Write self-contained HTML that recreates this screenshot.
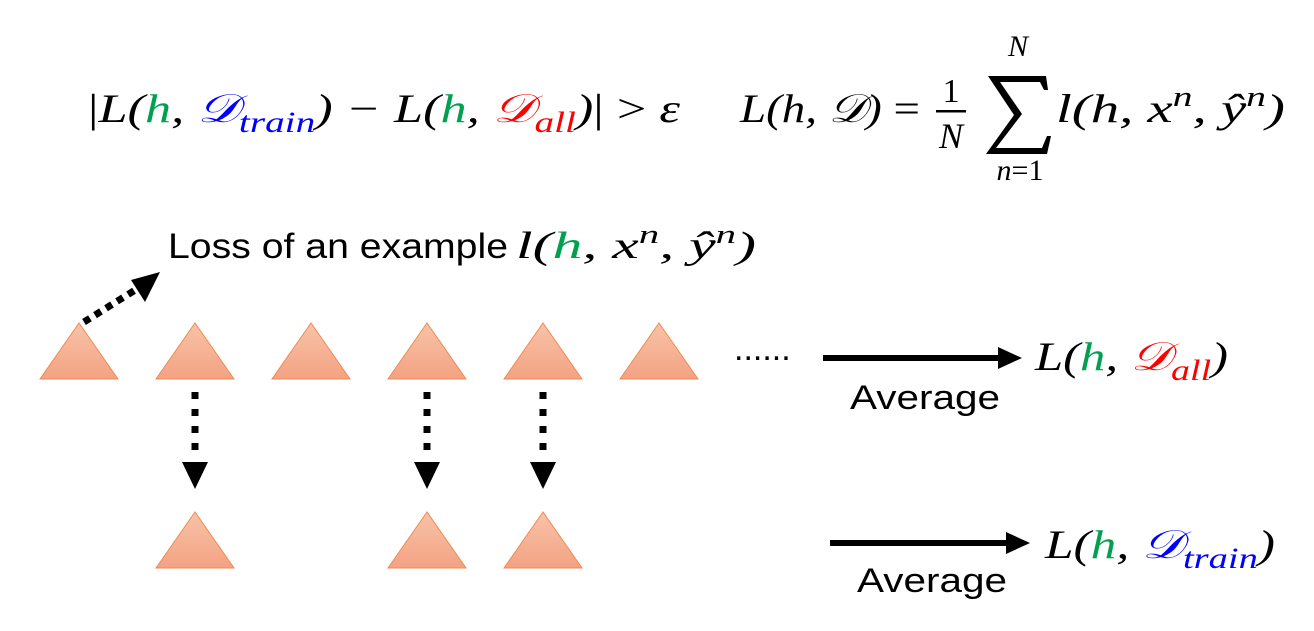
<!DOCTYPE html>
<html><head><meta charset="utf-8"><style>
html,body{margin:0;padding:0;background:#fff;}
svg{display:block;}
.m{font-family:"Liberation Serif",serif;font-style:italic;}
.r{font-family:"Liberation Serif",serif;font-style:normal;}
.s{font-family:"Liberation Sans",sans-serif;}
</style></head><body>
<svg width="1314" height="631" viewBox="0 0 1314 631" xmlns="http://www.w3.org/2000/svg">
<defs>
<linearGradient id="g" x1="0" y1="0" x2="0" y2="1">
<stop offset="0" stop-color="#f7c3a8"/><stop offset="1" stop-color="#f4a283"/>
</linearGradient>
</defs>
<!-- formula 1 -->
<text x="88" y="122" font-size="40" class="m" textLength="592" lengthAdjust="spacingAndGlyphs"><tspan class="r">|</tspan>L(<tspan fill="#00a050">h</tspan>, <tspan fill="#0000ff">𝒟</tspan><tspan fill="#0000ff" font-size="30" dy="10">train</tspan><tspan dy="-10">) − L(</tspan><tspan fill="#00a050">h</tspan>, <tspan fill="#ff0000">𝒟</tspan><tspan fill="#ff0000" font-size="30" dy="10">all</tspan><tspan dy="-10">)</tspan><tspan class="r">| &gt; </tspan>ε</text>
<!-- formula 2 -->
<text x="740" y="122" font-size="40" class="m" textLength="180" lengthAdjust="spacingAndGlyphs">L(h, 𝒟) <tspan class="r">=</tspan></text>
<text x="951" y="102" font-size="34" class="r" text-anchor="middle">1</text>
<rect x="936" y="110" width="30" height="2.5" fill="#000"/>
<text x="951" y="148" font-size="36" class="m" text-anchor="middle">N</text>
<polygon points="988,76 1046,76 1048,90 1044,90 1040,82 1000,82 1022,114 996,148 1042,148 1047,136 1051,136 1047,154 986,154 1014,115" fill="#000"/>
<text x="1018" y="56" font-size="30" class="m" text-anchor="middle">N</text>
<text x="1020" y="180" font-size="30" class="m" text-anchor="middle">n<tspan class="r">=1</tspan></text>
<text x="1056" y="122" font-size="40" class="m" textLength="229" lengthAdjust="spacingAndGlyphs">l(h, x<tspan font-size="28" dy="-16">n</tspan><tspan dy="16">, ŷ</tspan><tspan font-size="28" dy="-16">n</tspan><tspan dy="16">)</tspan></text>
<!-- loss of an example -->
<text x="168" y="258" font-size="35" class="s" textLength="340" lengthAdjust="spacingAndGlyphs">Loss of an example</text>
<text x="516" y="258" font-size="38" class="m" textLength="240" lengthAdjust="spacingAndGlyphs">l(<tspan fill="#00a050">h</tspan>, x<tspan font-size="26" dy="-15">n</tspan><tspan dy="15">, ŷ</tspan><tspan font-size="26" dy="-15">n</tspan><tspan dy="15">)</tspan></text>
<!-- diagonal dotted arrow -->
<line x1="84" y1="322" x2="140" y2="287" stroke="#000" stroke-width="7" stroke-dasharray="7,6"/>
<polygon points="160,272 131,280 145,302" fill="#000"/>
<!-- triangles -->
<g fill="url(#g)" stroke="#f08a50" stroke-width="1">
<polygon points="79,323 40,379 118,379"/>
<polygon points="195,323 156,379 234,379"/>
<polygon points="311,323 272,379 350,379"/>
<polygon points="427,323 388,379 466,379"/>
<polygon points="543,323 504,379 582,379"/>
<polygon points="659,323 620,379 698,379"/>
<polygon points="195,512 156,568 234,568"/>
<polygon points="427,512 388,568 466,568"/>
<polygon points="543,512 504,568 582,568"/>
</g>
<text x="734" y="360" font-size="34" class="s">......</text>
<!-- vertical dotted arrows -->
<g stroke="#000" stroke-width="7" stroke-dasharray="7,10">
<line x1="195" y1="392" x2="195" y2="460"/>
<line x1="427" y1="392" x2="427" y2="460"/>
<line x1="543" y1="392" x2="543" y2="460"/>
</g>
<g fill="#000">
<polygon points="182,462 208,462 195,489"/>
<polygon points="414,462 440,462 427,489"/>
<polygon points="530,462 556,462 543,489"/>
</g>
<!-- arrows right -->
<rect x="823" y="355" width="180" height="6" fill="#000"/>
<polygon points="998,347 1022,358 998,369" fill="#000"/>
<text x="850" y="409" font-size="34" class="s" textLength="150" lengthAdjust="spacingAndGlyphs">Average</text>
<text x="1035" y="370" font-size="40" class="m" textLength="193" lengthAdjust="spacingAndGlyphs">L(<tspan fill="#00a050">h</tspan>, <tspan fill="#ff0000">𝒟</tspan><tspan fill="#ff0000" font-size="30" dy="10">all</tspan><tspan dy="-10">)</tspan></text>
<rect x="830" y="540" width="180" height="6" fill="#000"/>
<polygon points="1006,532 1030,543 1006,554" fill="#000"/>
<text x="857" y="592" font-size="34" class="s" textLength="150" lengthAdjust="spacingAndGlyphs">Average</text>
<text x="1045" y="558" font-size="40" class="m" textLength="230" lengthAdjust="spacingAndGlyphs">L(<tspan fill="#00a050">h</tspan>, <tspan fill="#0000ff">𝒟</tspan><tspan fill="#0000ff" font-size="30" dy="10">train</tspan><tspan dy="-10">)</tspan></text>
</svg>
</body></html>
